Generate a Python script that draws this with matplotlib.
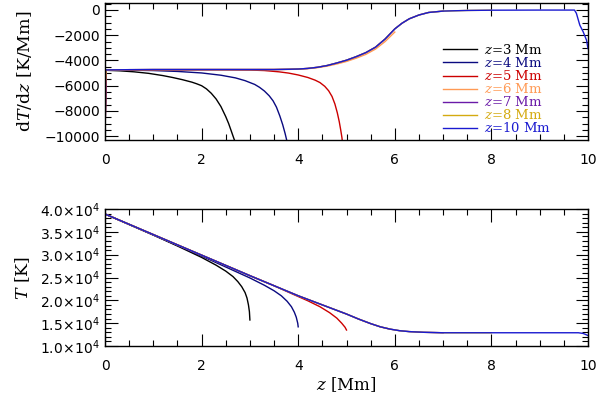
import matplotlib
matplotlib.use("Agg")
import matplotlib.pyplot as plt
import numpy as np
from matplotlib.ticker import MultipleLocator, FuncFormatter

# ---------------- data ----------------
labels = ["3", "4", "5", "6", "7", "8", "10"]
colors = ["#000000", "#0a0a80", "#cc0000", "#ff9a55", "#6a1aa8", "#d4aa10", "#1a1ad0"]
z_ends = [3, 4, 5, 6, 7, 8, 10]

# top panel: dT/dz [K/Mm]
g3_z = [0, 0.02, 0.3, 0.6, 0.9, 1.2, 1.4, 1.6, 1.8, 1.9, 2.0, 2.1, 2.2, 2.3, 2.4, 2.5,
        2.56, 2.62, 2.67, 2.71]
g3_v = [-10500, -4780, -4820, -4900, -5020, -5200, -5350, -5520, -5720, -5850, -6000, -6250,
        -6600, -7050, -7650, -8450, -9000, -9650, -10200, -10600]
g4_z = [0, 0.02, 0.5, 1.0, 1.5, 2.0, 2.4, 2.7, 2.9, 3.1, 3.2, 3.3, 3.4, 3.48, 3.55, 3.62,
        3.68, 3.73, 3.78]
g4_v = [-10500, -4760, -4770, -4800, -4870, -4990, -5170, -5380, -5600, -5900, -6130, -6420,
        -6800, -7200, -7700, -8400, -9100, -9800, -10600]
g5_z = [0, 0.02, 2.5, 3.0, 3.3, 3.6, 3.8, 4.0, 4.2, 4.35, 4.45, 4.55, 4.63, 4.7, 4.76, 4.81,
        4.85, 4.88, 4.905, 4.92]
g5_v = [-10500, -4750, -4740, -4760, -4800, -4900, -5000, -5150, -5350, -5560, -5750, -6050,
        -6400, -6850, -7450, -8150, -8850, -9500, -10100, -10600]
g6_z = [0, 0.02, 1, 2, 3, 3.8, 4.0, 4.2, 4.4, 4.6, 4.8, 5.0, 5.2, 5.4, 5.6, 5.8, 6.0]
g6_v = [-10500, -4750, -4730, -4720, -4720, -4710, -4690, -4650, -4570, -4450, -4280, -4080,
        -3820, -3520, -3100, -2500, -1750]
gc_z = [0, 0.02, 0.5, 1, 2, 3, 3.5, 3.8, 4.0, 4.2, 4.4, 4.6, 4.8, 5.0, 5.2, 5.4, 5.6, 5.8,
        6.0, 6.15, 6.3, 6.5, 6.7, 7.0, 7.5, 8.0, 9.0, 9.72, 9.76, 9.8, 9.83, 9.9, 9.97, 10.0]
gc_v = [-4900, -4750, -4730, -4720, -4720, -4720, -4720, -4700, -4680, -4630, -4540, -4400,
        -4200, -3980, -3700, -3380, -2950, -2300, -1500, -1050, -700, -400, -200, -90, -40,
        -20, -10, -10, -270, -800, -1200, -1730, -2400, -3060]
g7_start = -10500
g8_start = -6700

# bottom panel: T [K]
t3_z = [0, 0.5, 1.0, 1.5, 2.0, 2.3, 2.5, 2.65, 2.75, 2.83, 2.9, 2.94, 2.97, 2.99, 3.0]
t3_v = [38900, 36600, 34300, 31900, 29400, 27700, 26400, 25200, 24100, 23000, 21700, 20500,
        19000, 17500, 15700]
t4_z = [0, 1, 2, 2.5, 3, 3.3, 3.5, 3.65, 3.77, 3.86, 3.92, 3.96, 3.99, 4.0]
t4_v = [38900, 34300, 29700, 27300, 24900, 23300, 22100, 21000, 19800, 18600, 17400, 16300,
        15000, 14200]
t5_z = [0, 2, 3, 3.5, 3.9, 4.2, 4.45, 4.65, 4.8, 4.9, 4.97, 5.0]
t5_v = [38900, 29900, 25400, 23200, 21300, 19900, 18600, 17300, 16100, 15000, 14100, 13500]
tc_z = [0, 1, 2, 3, 4, 5, 5.25, 5.5, 5.7, 5.9, 6.1, 6.3, 6.6, 7, 8, 9, 9.8, 9.9, 10]
tc_v = [38900, 34400, 29900, 25400, 21000, 17000, 15900, 14900, 14200, 13700, 13350, 13150,
        13000, 12900, 12900, 12900, 12900, 12750, 12300]

# ---------------- figure ----------------
plt.rcParams["font.family"] = ["DejaVu Sans"]
fig = plt.figure(figsize=(6.0, 3.99), dpi=100)
ax1 = fig.add_axes([105/600, 1-140/399, 483/600, 137/399])
ax2 = fig.add_axes([105/600, 1-346/399, 483/600, 137/399])

lw = 1.0
tops = [(g3_z, g3_v), (g4_z, g4_v), (g5_z, g5_v), (g6_z, g6_v)]
gcz = np.array(gc_z); gcv = np.array(gc_v)
m7 = gcz <= 7.0
v7 = gcv[m7].copy(); v7[0] = g7_start
tops.append((gcz[m7], v7))
m8 = gcz <= 8.0
v8 = gcv[m8].copy(); v8[0] = g8_start
tops.append((gcz[m8], v8))
tops.append((gcz, gcv))
for (zz, vv), c, lab in zip(tops, colors, labels):
    ax1.plot(zz, vv, color=c, lw=lw, label=f"$z$={lab} Mm")

tcz = np.array(tc_z); tcv = np.array(tc_v)
bots = [(t3_z, t3_v), (t4_z, t4_v), (t5_z, t5_v)]
for ze in z_ends[3:]:
    m = tcz <= ze
    bots.append((tcz[m], tcv[m]))
for (zz, vv), c in zip(bots, colors):
    ax2.plot(zz, vv, color=c, lw=lw)

for ax in (ax1, ax2):
    ax.set_xlim(0, 10)
    ax.xaxis.set_major_locator(MultipleLocator(2))
    ax.xaxis.set_minor_locator(MultipleLocator(0.5))
    ax.tick_params(which="both", direction="in", top=True, right=True, labelsize=10,
                   width=0.8, colors="black")
    ax.tick_params(which="major", length=9)
    ax.tick_params(which="minor", length=4.5)
    ax.tick_params(axis="x", which="both", pad=9)
    ax.tick_params(axis="y", which="both", pad=3.5)
    for s in ax.spines.values():
        s.set_linewidth(1.0)

ax1.set_ylim(-10300, 550)
ax1.yaxis.set_major_locator(MultipleLocator(2000))
ax1.yaxis.set_minor_locator(MultipleLocator(500))
ax1.yaxis.set_major_formatter(FuncFormatter(lambda v, p: f"{int(round(v))}".replace("-", "\u2212")))

ax2.set_ylim(10000, 40000)
ax2.yaxis.set_major_locator(MultipleLocator(5000))
ax2.yaxis.set_minor_locator(MultipleLocator(1000))
ax2.yaxis.set_major_formatter(FuncFormatter(lambda v, p: r"$%.1f\!\times\!10^{4}$" % (v / 1e4)))
for t in ax2.get_yticklabels():
    t.set_math_fontfamily("dejavusans")

serif = ["DejaVu Serif"]
ax1.set_ylabel("d$T$/d$z$ [K/Mm]", fontsize=12.5, family=serif, math_fontfamily="dejavuserif", labelpad=8)
ax2.set_ylabel("$T$ [K]", fontsize=12.5, family=serif, math_fontfamily="dejavuserif", labelpad=6)
ax2.set_xlabel("$z$ [Mm]", fontsize=12, family=serif, math_fontfamily="dejavuserif", labelpad=2)

leg = ax1.legend(loc="upper left", bbox_to_anchor=(0.70, 0.708), frameon=False,
                 handlelength=2.6, handletextpad=0.5, labelspacing=-0.07,
                 labelcolor="linecolor", prop={"family": serif, "size": 9.5},
                 borderpad=0, borderaxespad=0)
for t in leg.get_texts():
    t.set_math_fontfamily("dejavuserif")

fig.savefig("out.png", dpi=100)
